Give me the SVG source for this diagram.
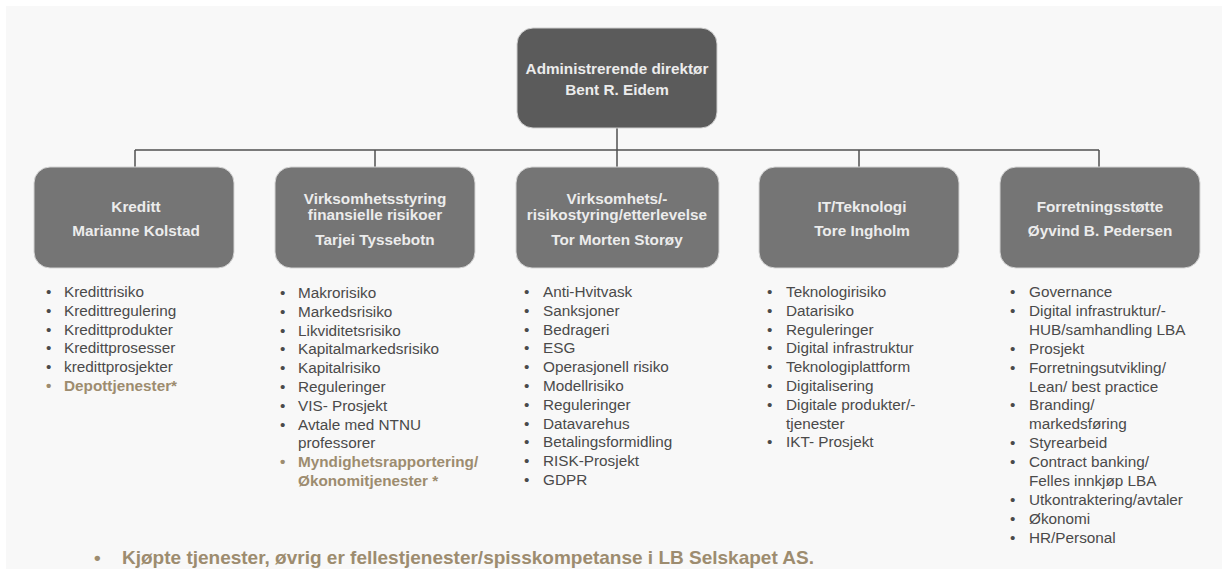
<svg xmlns="http://www.w3.org/2000/svg" width="1228" height="575" viewBox="0 0 1228 575">
<style>
.bg{fill:#f8f8f8}
.top{fill:#5b5b5b;stroke:#cfcfcf;stroke-width:1}
.box{fill:#757575;stroke:#d5d5d5;stroke-width:1}
.ht{font-family:"Liberation Sans",Arial,sans-serif;font-weight:bold;font-size:15.3px;fill:#ececec;text-anchor:middle}
.li{font-family:"Liberation Sans",Arial,sans-serif;font-size:15.3px;fill:#4a4a4a}
.tan{font-family:"Liberation Sans",Arial,sans-serif;font-size:15.3px;font-weight:bold;fill:#9d8c6f}
.foot{font-family:"Liberation Sans",Arial,sans-serif;font-size:19px;font-weight:bold;fill:#9d8c6f}
.conn{stroke:#505050;stroke-width:1.5;fill:none}
</style>
<rect x="0" y="0" width="1228" height="575" fill="#ffffff"/>
<rect class="bg" x="6" y="6" width="1216" height="563"/>
<g id="connectors">
<path class="conn" d="M617 128 V150 M135 150 H1099 M135 150 V167 M375 150 V167 M617 150 V167 M859 150 V167 M1099 150 V167"/>
</g>
<g id="node-ceo">
<rect class="top" x="517" y="28" width="200" height="100" rx="16"/>
<text class="ht" x="617" y="74">Administrerende direktør</text>
<text class="ht" x="617" y="95">Bent R. Eidem</text>
</g>
<g id="node-kreditt">
<rect class="box" x="34" y="167" width="200" height="101" rx="16"/>
<text class="ht" x="136" y="212">Kreditt</text>
<text class="ht" x="136" y="236">Marianne Kolstad</text>
</g>
<g id="node-virksomhetsstyring">
<rect class="box" x="275" y="167" width="200" height="101" rx="16"/>
<text class="ht" x="375" y="204">Virksomhetsstyring</text>
<text class="ht" x="375" y="220">finansielle risikoer</text>
<text class="ht" x="375" y="245">Tarjei Tyssebotn</text>
</g>
<g id="node-risikostyring">
<rect class="box" x="516" y="167" width="203" height="101" rx="16"/>
<text class="ht" x="617" y="204">Virksomhets/-</text>
<text class="ht" x="617" y="220">risikostyring/etterlevelse</text>
<text class="ht" x="617" y="245">Tor Morten Storøy</text>
</g>
<g id="node-it">
<rect class="box" x="759" y="167" width="200" height="101" rx="16"/>
<text class="ht" x="862" y="212">IT/Teknologi</text>
<text class="ht" x="862" y="236">Tore Ingholm</text>
</g>
<g id="node-forretningsstotte">
<rect class="box" x="1000" y="167" width="200" height="101" rx="16"/>
<text class="ht" x="1100" y="212">Forretningsstøtte</text>
<text class="ht" x="1100" y="236">Øyvind B. Pedersen</text>
</g>
<g id="list-kreditt">
<text class="li" x="46" y="297">•</text><text class="li" x="64" y="297">Kredittrisiko</text>
<text class="li" x="46" y="315.8">•</text><text class="li" x="64" y="315.8">Kredittregulering</text>
<text class="li" x="46" y="334.6">•</text><text class="li" x="64" y="334.6">Kredittprodukter</text>
<text class="li" x="46" y="353.4">•</text><text class="li" x="64" y="353.4">Kredittprosesser</text>
<text class="li" x="46" y="372.2">•</text><text class="li" x="64" y="372.2">kredittprosjekter</text>
<text class="tan" x="46" y="391">•</text><text class="tan" x="64" y="391">Depottjenester*</text>
</g>
<g id="list-virksomhetsstyring">
<text class="li" x="280" y="298">•</text><text class="li" x="298" y="298">Makrorisiko</text>
<text class="li" x="280" y="316.8">•</text><text class="li" x="298" y="316.8">Markedsrisiko</text>
<text class="li" x="280" y="335.6">•</text><text class="li" x="298" y="335.6">Likviditetsrisiko</text>
<text class="li" x="280" y="354.4">•</text><text class="li" x="298" y="354.4">Kapitalmarkedsrisiko</text>
<text class="li" x="280" y="373.2">•</text><text class="li" x="298" y="373.2">Kapitalrisiko</text>
<text class="li" x="280" y="392">•</text><text class="li" x="298" y="392">Reguleringer</text>
<text class="li" x="280" y="410.8">•</text><text class="li" x="298" y="410.8">VIS- Prosjekt</text>
<text class="li" x="280" y="429.6">•</text><text class="li" x="298" y="429.6">Avtale med NTNU</text>
<text class="li" x="298" y="448.4">professorer</text>
<text class="tan" x="280" y="467.2">•</text><text class="tan" x="298" y="467.2">Myndighetsrapportering/</text>
<text class="tan" x="298" y="486">Økonomitjenester *</text>
</g>
<g id="list-risikostyring">
<text class="li" x="524" y="297">•</text><text class="li" x="543" y="297">Anti-Hvitvask</text>
<text class="li" x="524" y="315.8">•</text><text class="li" x="543" y="315.8">Sanksjoner</text>
<text class="li" x="524" y="334.6">•</text><text class="li" x="543" y="334.6">Bedrageri</text>
<text class="li" x="524" y="353.4">•</text><text class="li" x="543" y="353.4">ESG</text>
<text class="li" x="524" y="372.2">•</text><text class="li" x="543" y="372.2">Operasjonell risiko</text>
<text class="li" x="524" y="391">•</text><text class="li" x="543" y="391">Modellrisiko</text>
<text class="li" x="524" y="409.8">•</text><text class="li" x="543" y="409.8">Reguleringer</text>
<text class="li" x="524" y="428.6">•</text><text class="li" x="543" y="428.6">Datavarehus</text>
<text class="li" x="524" y="447.4">•</text><text class="li" x="543" y="447.4">Betalingsformidling</text>
<text class="li" x="524" y="466.2">•</text><text class="li" x="543" y="466.2">RISK-Prosjekt</text>
<text class="li" x="524" y="485">•</text><text class="li" x="543" y="485">GDPR</text>
</g>
<g id="list-it">
<text class="li" x="767" y="297">•</text><text class="li" x="786" y="297">Teknologirisiko</text>
<text class="li" x="767" y="315.8">•</text><text class="li" x="786" y="315.8">Datarisiko</text>
<text class="li" x="767" y="334.6">•</text><text class="li" x="786" y="334.6">Reguleringer</text>
<text class="li" x="767" y="353.4">•</text><text class="li" x="786" y="353.4">Digital infrastruktur</text>
<text class="li" x="767" y="372.2">•</text><text class="li" x="786" y="372.2">Teknologiplattform</text>
<text class="li" x="767" y="391">•</text><text class="li" x="786" y="391">Digitalisering</text>
<text class="li" x="767" y="409.8">•</text><text class="li" x="786" y="409.8">Digitale produkter/-</text>
<text class="li" x="786" y="428.6">tjenester</text>
<text class="li" x="767" y="447.4">•</text><text class="li" x="786" y="447.4">IKT- Prosjekt</text>
</g>
<g id="list-forretningsstotte">
<text class="li" x="1010" y="297">•</text><text class="li" x="1029" y="297">Governance</text>
<text class="li" x="1010" y="315.9">•</text><text class="li" x="1029" y="315.9">Digital infrastruktur/-</text>
<text class="li" x="1029" y="334.8">HUB/samhandling LBA</text>
<text class="li" x="1010" y="353.7">•</text><text class="li" x="1029" y="353.7">Prosjekt</text>
<text class="li" x="1010" y="372.6">•</text><text class="li" x="1029" y="372.6">Forretningsutvikling/</text>
<text class="li" x="1029" y="391.5">Lean/ best practice</text>
<text class="li" x="1010" y="410.4">•</text><text class="li" x="1029" y="410.4">Branding/</text>
<text class="li" x="1029" y="429.3">markedsføring</text>
<text class="li" x="1010" y="448.2">•</text><text class="li" x="1029" y="448.2">Styrearbeid</text>
<text class="li" x="1010" y="467.1">•</text><text class="li" x="1029" y="467.1">Contract banking/</text>
<text class="li" x="1029" y="486">Felles innkjøp LBA</text>
<text class="li" x="1010" y="504.9">•</text><text class="li" x="1029" y="504.9">Utkontraktering/avtaler</text>
<text class="li" x="1010" y="523.8">•</text><text class="li" x="1029" y="523.8">Økonomi</text>
<text class="li" x="1010" y="542.7">•</text><text class="li" x="1029" y="542.7">HR/Personal</text>
</g>
<g id="footnote">
<text class="foot" x="94" y="564">•</text><text class="foot" x="122" y="564">Kjøpte tjenester, øvrig er fellestjenester/spisskompetanse i LB Selskapet AS.</text>
</g>
</svg>
